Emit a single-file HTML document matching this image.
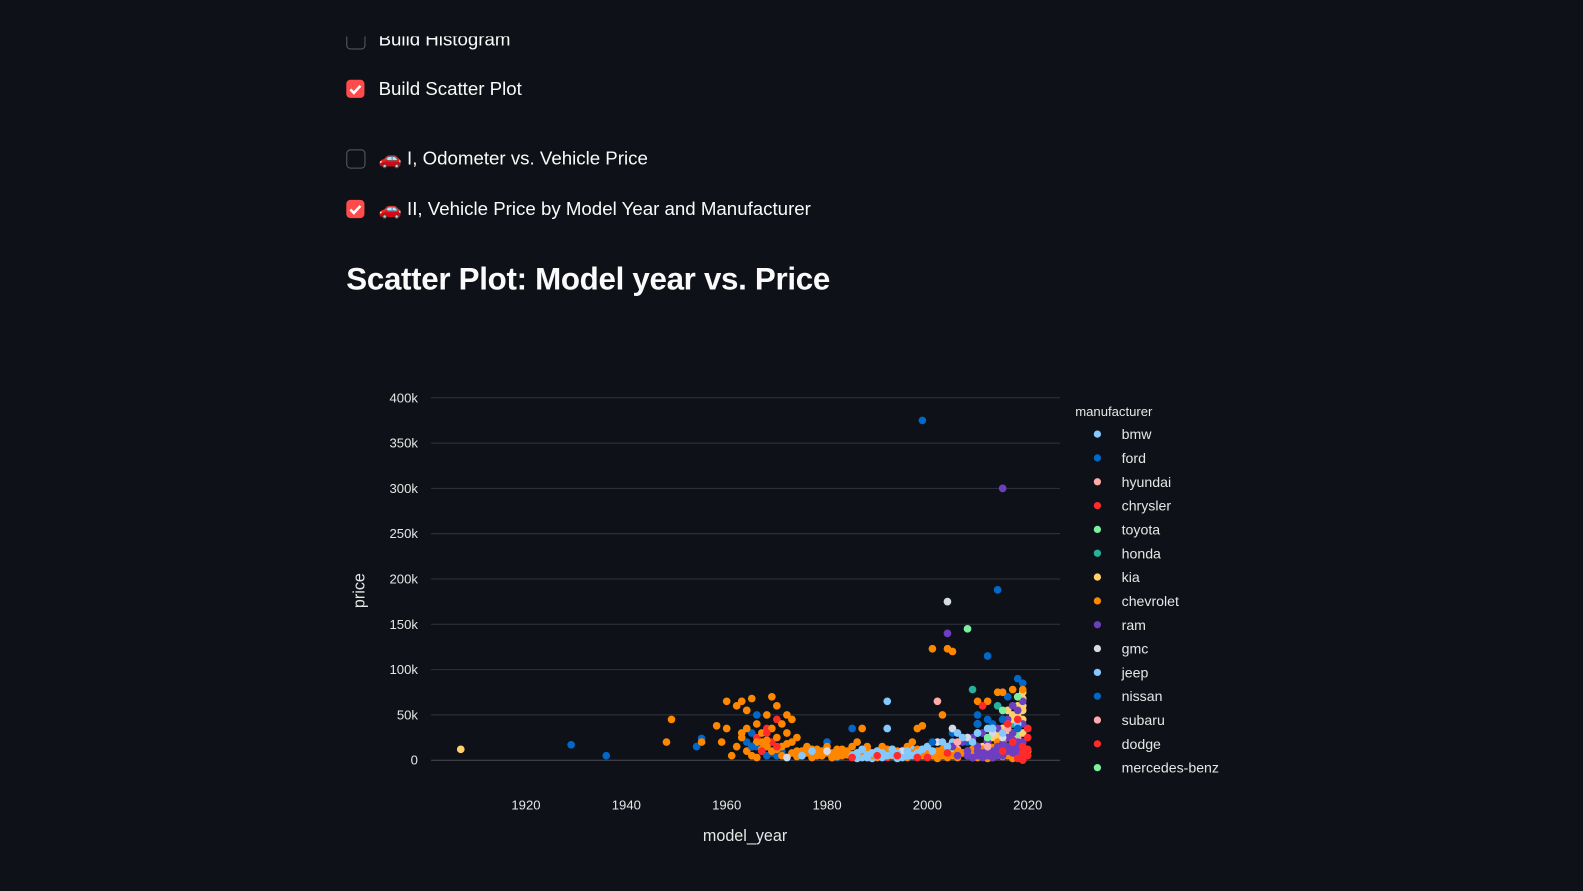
<!DOCTYPE html>
<html><head><meta charset="utf-8"><style>
body{margin:0;width:1583px;height:891px;background:#0e1117;overflow:hidden;font-family:"Liberation Sans","Noto Sans CJK JP",sans-serif;color:#fafafa;position:relative}
#wrap{position:absolute;left:0;top:0;width:1568px;height:883px;transform:scale(1.00957);transform-origin:0 0}
.cb{position:absolute;left:343px;width:18px;height:18px;border-radius:4px}
.off{border:1px solid #5a5d66;width:17px;height:17px;background:#0e1117}
.on{background:#ff4b4b}
.lbl{position:absolute;left:375px;font-size:18.5px;color:#fafafa;white-space:nowrap}
h1{position:absolute;left:343px;top:259px;margin:0;font-size:31px;font-weight:bold;letter-spacing:-0.3px}
svg{position:absolute;left:0;top:0}
</style></head><body>
<div id="wrap">
<div class="cb off" style="top:30px"></div>
<div class="lbl" style="top:28px">Build Histogram</div>
<div style="position:absolute;left:0;top:0;width:1568px;height:36px;background:#0e1117"></div>
<div class="cb on" style="top:79px"><svg width="18" height="18" style="position:absolute"><path d="M4 9.5l3.5 3.5 6.5-7" stroke="#fff" stroke-width="2.5" fill="none"/></svg></div>
<div class="lbl" style="top:77px">Build Scatter Plot</div>
<div class="cb off" style="top:148px"></div>
<div class="lbl" style="top:146px">🚗 I, Odometer vs. Vehicle Price</div>
<div class="cb on" style="top:198px"><svg width="18" height="18" style="position:absolute"><path d="M4 9.5l3.5 3.5 6.5-7" stroke="#fff" stroke-width="2.5" fill="none"/></svg></div>
<div class="lbl" style="top:196px">🚗 II, Vehicle Price by Model Year and Manufacturer</div>
<h1>Scatter Plot: Model year vs. Price</h1>
<svg id="chart" width="1568" height="883"></svg>
</div>
<script>
const yTicks=[0,50000,100000,150000,200000,250000,300000,350000,400000];
const yTickLabels=["0","50k","100k","150k","200k","250k","300k","350k","400k"];
const xTicks=[1920,1940,1960,1980,2000,2020];
const manufacturers=["bmw","ford","hyundai","chrysler","toyota","honda","kia","chevrolet","ram","gmc","jeep","nissan","subaru","dodge","mercedes-benz"];
const colors=["#83c9ff","#0068c9","#ffabab","#ff2b2b","#7defa1","#29b09d","#ffd16a","#ff8700","#6d3fc0","#d5dae5","#83c9ff","#0068c9","#ffabab","#ff2b2b","#7defa1"];
const yearsBmw=[1992,1985,1990,2000,2005,2010,2015,2018,2008,2012,1987,1997,1989,1991];
const pricesBmw=[65000,5000,8000,15000,20000,30000,35000,40000,25000,22000,3000,12000,2000,4000];
const yearsFord=[1999,2014,2012,2018,2019,1929,1936,1954,1955,1965,1967,1970,1966,1985,2016,2010,2005,1995,1980,2000,2019,1964,1968,1971,1982,1990,2008,1966,1969,1972,2015,2013,2017];
const pricesFord=[375000,188000,115000,90000,85000,17000,5000,15000,24000,30000,10000,5000,50000,35000,70000,50000,30000,10000,20000,8000,10000,20000,5000,10000,3000,5000,20000,15000,8000,3000,45000,40000,60000];
const yearsHyundai=[2002,2010,2015,2018,2012,2006];
const pricesHyundai=[65000,15000,20000,25000,10000,12000];
const yearsChrysler=[1969,1966,1970,1985,2005,2012,1968,1992];
const pricesChrysler=[20000,25000,45000,5000,15000,8000,35000,3000];
const yearsToyota=[2008,2011,2016,2018,2005];
const pricesToyota=[145000,10000,40000,30000,10000];
const yearsHonda=[2009,2014,2017,2012];
const pricesHonda=[78000,60000,40000,15000];
const yearsKia=[1907,2012,2014,2016,2018,2019,2017,2015,2013,2011,2019,2018,2016,2014,2010,2019,2017,2018,2015,2013,2019,2016,2017,2018,2019,2015,2016,2014,2012,2019,2018];
const pricesKia=[12000,20000,30000,40000,60000,75000,50000,35000,25000,15000,45000,70000,25000,15000,10000,30000,30000,40000,20000,35000,60000,55000,45000,50000,55000,28000,32000,22000,12000,68000,35000];
const yearsChev=[1948,1949,1958,1959,1960,1962,1963,1964,1965,1961,1963,1964,1965,1966,1967,1968,1969,1970,1969,1970,1971,1972,1973,1974,1975,1976,1977,1978,1979,1980,1981,1982,1983,1984,1985,1986,1987,1988,1989,1990,1991,1992,1993,1994,1995,1996,1997,1998,1999,2000,2001,2002,2003,2004,2005,2001,2003,2006,2008,2010,2012,2014,2015,2017,2019,2012,2015,2018,2016,1962,1966,1968,1972,1973,1960,1955,1967,1971,1974,1976,1978,1981,1983,1986,1988,1990,1993,1996,1999,2002,2004,2007,2009,2011,2013,2014,2016,2020,1965,1969,
1975,1977,1979,1980,1982,1984,1986,1987,1989,1991,1992,1994,1995,1997,1998,2000,2001,2003,2005,2006,2007,2008,2009,2010,2011,2012,2013,2014,1976,1978,1981,1983,1985,1988,1990,1993,1996,1999,2002,2004,2006,2010,2015,2017,2018,1970,1971,1972,1973,1974,1963,1964,1966,1967,1968,2019,2016,2013,2011,2009];
const pricesChev=[20000,45000,38000,20000,65000,60000,65000,55000,68000,5000,25000,35000,15000,40000,30000,50000,70000,60000,35000,25000,40000,50000,20000,10000,5000,8000,12000,5000,10000,15000,8000,12000,5000,10000,15000,20000,35000,12000,5000,10000,15000,8000,12000,5000,10000,15000,20000,35000,38000,10000,5000,8000,5000,123000,120000,123000,50000,10000,5000,65000,65000,75000,75000,78000,78000,5000,8000,3000,5000,15000,3000,15000,30000,45000,35000,20000,20000,15000,25000,15000,10000,3000,12000,8000,15000,3000,5000,8000,12000,10000,15000,8000,10000,12000,8000,20000,12000,10000,5000,10000,
10000,3000,5000,8000,4000,6000,3000,10000,8000,5000,12000,10000,4000,8000,12000,4000,10000,12000,5000,3000,8000,10000,3000,6000,4000,2000,3000,5000,14000,12000,3000,8000,6000,3000,4000,6000,3000,5000,2000,3000,6000,3000,4000,2000,8000,12000,5000,18000,8000,4000,30000,10000,20000,12000,22000,20000,10000,14000,6000,12000];
const yearsRam=[2015,2004,2005,2007,2008,2009,2010,2011,2012,2013,2014,2015,2016,2017,2018,2019,2014,2016,2018,2017,2012,2010,2019,2006,2008,2011,2013,2015,2017,2019,2020,2018,2016,2014,2012,2009,2011,2013,2015,2017,2019,2014,2016,2018,2012,2010,2015,2017];
const pricesRam=[300000,140000,15000,20000,10000,25000,15000,30000,20000,10000,35000,25000,45000,30000,55000,40000,15000,10000,20000,60000,5000,5000,65000,5000,5000,8000,5000,10000,15000,20000,35000,5000,25000,5000,12000,3000,3000,3000,5000,8000,10000,8000,15000,12000,8000,10000,18000,22000];
const yearsGmc=[2004,1972,1988,2005,2010,2015,2018,1980,1995,2008,2013,2002];
const pricesGmc=[175000,3000,5000,35000,40000,25000,45000,10000,10000,25000,30000,20000];
const yearsJeep=[1992,1975,1977,1985,1986,1988,1990,1992,1993,1994,1995,1996,1997,2000,2003,2006,2009,2012,2015,2018,1987,1989,1991,1986,1988,1990,1991,1993,1994,1996,1998,1999,2001,2004,2007,2010,2013,2016];
const pricesJeep=[35000,5000,10000,5000,8000,3000,10000,5000,12000,8000,3000,10000,5000,15000,20000,30000,20000,35000,30000,40000,12000,8000,3000,2000,6000,4000,8000,6000,2000,5000,8000,12000,10000,15000,25000,30000,35000,40000];
const yearsNissan=[2001,2010,2015,2018,1965,2019,2012];
const pricesNissan=[20000,40000,45000,35000,15000,3000,45000];
const yearsSubaru=[2006,2012,2016];
const pricesSubaru=[20000,15000,35000];
const yearsDodge=[1970,1967,1968,1985,1990,1994,1998,2004,2011,2016,2018,2020,2019,2020,2019,2000,2015,2017,2020,2019,2020,2018];
const pricesDodge=[15000,10000,30000,3000,5000,5000,3000,8000,60000,40000,45000,5000,15000,25000,0,3000,10000,20000,12000,8000,35000,2000];
const yearsMerc=[2018,2015,2012];
const pricesMerc=[70000,55000,25000];
const seriesYears=[yearsBmw,yearsFord,yearsHyundai,yearsChrysler,yearsToyota,yearsHonda,yearsKia,yearsChev,yearsRam,yearsGmc,yearsJeep,yearsNissan,yearsSubaru,yearsDodge,yearsMerc];
const seriesPrices=[pricesBmw,pricesFord,pricesHyundai,pricesChrysler,pricesToyota,pricesHonda,pricesKia,pricesChev,pricesRam,pricesGmc,pricesJeep,pricesNissan,pricesSubaru,pricesDodge,pricesMerc];

const NS="http://www.w3.org/2000/svg";
const svg=document.getElementById('chart');
const X0=427,X1=1050,Y0=753,Y1=394;
const xScale=v=>521+(v-1920)*(1018-521)/100;
const yScale=v=>Y0-(v/400000)*(Y0-Y1);
function mk(t,a){const e=document.createElementNS(NS,t);for(const k in a)e.setAttribute(k,a[k]);svg.appendChild(e);return e;}
yTicks.forEach((t,i)=>{
  const g=mk('line',{x1:X0,x2:X1,y1:yScale(t),y2:yScale(t),stroke:i==0?'#4a4d57':'#31333f','stroke-width':1});
  
  
  const tx=mk('text',{x:414,y:yScale(t)+4.5,'text-anchor':'end','font-size':13,fill:'#e6e6e6'});
  tx.textContent=yTickLabels[i];
  
  
});
xTicks.forEach(t=>{
  const tx=mk('text',{x:xScale(t),y:802,'text-anchor':'middle','font-size':13,fill:'#e6e6e6'});
  tx.textContent=t;
  
  
});
const yt=mk('text',{x:0,y:0,'font-size':16,fill:'#e6e6e6','text-anchor':'middle',transform:'translate(361,585) rotate(-90)'});
yt.textContent='price';


const xt=mk('text',{x:738,y:833,'font-size':16,fill:'#e6e6e6','text-anchor':'middle'});
xt.textContent='model_year';


seriesYears.forEach((ys,s)=>{
  ys.forEach((yr,i)=>{
    const c=mk('circle',{cx:xScale(yr),cy:yScale(seriesPrices[s][i]),r:3.8,fill:colors[s]});
    
    
  });
});
const lt=mk('text',{x:1065,y:412,'font-size':13,fill:'#e6e6e6'});
lt.textContent='manufacturer';


manufacturers.forEach((m,i)=>{
  const y=430+i*23.6;
  const d=mk('circle',{cx:1087,cy:y,r:3.6,fill:colors[i]});
  
  
  const t=mk('text',{x:1111,y:y+5,'font-size':14,fill:'#e6e6e6'});
  t.textContent=m;
  
  
});
</script>
</body></html>
